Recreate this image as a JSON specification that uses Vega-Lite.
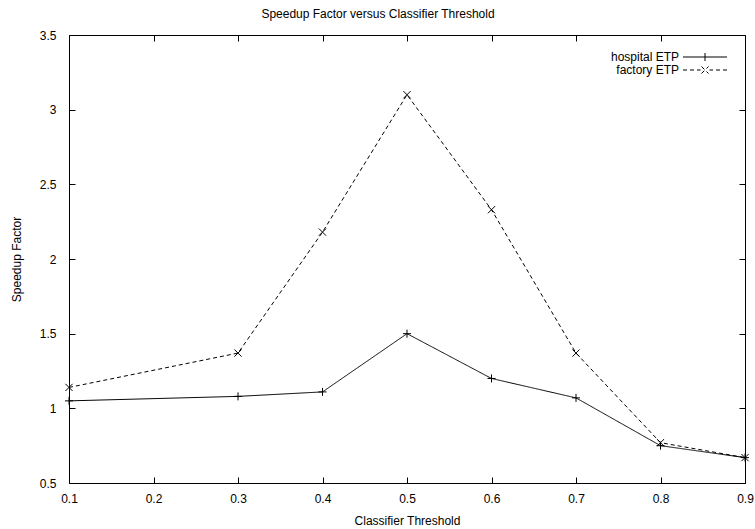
{
  "$schema": "https://vega.github.io/schema/vega-lite/v6.json",
  "width": 676,
  "height": 448,
  "autosize": "none",
  "padding": {"left": 69, "top": 35, "right": 10, "bottom": 46},
  "background": "white",
  "config": {
    "font": "Liberation Sans",
    "view": {"stroke": "black", "strokeWidth": 1},
    "axis": {
      "domain": false,
      "grid": false,
      "ticks": true,
      "tickColor": "black",
      "tickWidth": 1,
      "tickSize": 6,
      "offset": -6,
      "zindex": 1,
      "labelColor": "black",
      "labelFontSize": 12,
      "labelFlush": false,
      "labelOverlap": false,
      "titleFontSize": 12,
      "titleFontWeight": "normal",
      "titleColor": "black"
    }
  },
  "title": {"text": "Speedup Factor versus Classifier Threshold", "fontSize": 12, "fontWeight": "normal", "offset": 8, "dx": -29, "color": "black"},
  "data": {"values": [
    {"threshold": 0.1, "speedup": 1.05, "series": "hospital ETP"},
    {"threshold": 0.3, "speedup": 1.08, "series": "hospital ETP"},
    {"threshold": 0.4, "speedup": 1.11, "series": "hospital ETP"},
    {"threshold": 0.5, "speedup": 1.5, "series": "hospital ETP"},
    {"threshold": 0.6, "speedup": 1.2, "series": "hospital ETP"},
    {"threshold": 0.7, "speedup": 1.07, "series": "hospital ETP"},
    {"threshold": 0.8, "speedup": 0.75, "series": "hospital ETP"},
    {"threshold": 0.9, "speedup": 0.67, "series": "hospital ETP"},
    {"threshold": 0.1, "speedup": 1.14, "series": "factory ETP"},
    {"threshold": 0.3, "speedup": 1.37, "series": "factory ETP"},
    {"threshold": 0.4, "speedup": 2.18, "series": "factory ETP"},
    {"threshold": 0.5, "speedup": 3.1, "series": "factory ETP"},
    {"threshold": 0.6, "speedup": 2.33, "series": "factory ETP"},
    {"threshold": 0.7, "speedup": 1.37, "series": "factory ETP"},
    {"threshold": 0.8, "speedup": 0.77, "series": "factory ETP"},
    {"threshold": 0.9, "speedup": 0.67, "series": "factory ETP"}
  ]},
  "layer": [
    {
      "mark": {"type": "point", "opacity": 0},
      "encoding": {
        "x": {"field": "threshold", "type": "quantitative", "scale": {"domain": [0.1, 0.9], "nice": false, "zero": false},
              "axis": {"orient": "top", "title": null, "labels": false, "ticks": true, "values": [0.1,0.2,0.3,0.4,0.5,0.6,0.7,0.8,0.9]}},
        "y": {"field": "speedup", "type": "quantitative", "scale": {"domain": [0.5, 3.5], "nice": false, "zero": false},
              "axis": {"orient": "right", "title": null, "labels": false, "ticks": true, "values": [0.5,1,1.5,2,2.5,3,3.5]}}
      }
    },
    {
      "mark": {"type": "point", "opacity": 0},
      "encoding": {
        "x": {"field": "threshold", "type": "quantitative",
              "axis": {"orient": "bottom", "title": "Classifier Threshold", "ticks": true, "values": [0.1,0.2,0.3,0.4,0.5,0.6,0.7,0.8,0.9], "format": ".1f", "labelPadding": 10, "titlePadding": 11}},
        "y": {"field": "speedup", "type": "quantitative",
              "axis": {"orient": "left", "title": "Speedup Factor", "ticks": true, "values": [0.5,1,1.5,2,2.5,3,3.5], "format": "~g", "labelPadding": 13, "titlePadding": 16}}
      }
    },
    {
      "mark": {"type": "line", "color": "black", "strokeWidth": 1},
      "encoding": {
        "x": {"field": "threshold", "type": "quantitative", "axis": null},
        "y": {"field": "speedup", "type": "quantitative", "axis": null},
        "strokeDash": {
          "field": "series", "type": "nominal",
          "scale": {"domain": ["hospital ETP", "factory ETP"], "range": [[1, 0], [4, 3]]},
          "legend": {
            "title": null,
            "orient": "top-right",
            "offset": 16,
            "padding": 0,
            "labelFontSize": 12,
            "labelColor": "black",
            "rowPadding": 1,
            "symbolSize": 64,
            "symbolStrokeColor": "black",
            "symbolStrokeWidth": 1,
            "encode": {
              "legend": {"update": {"y": {"value": 9}}},
              "labels": {"update": {"align": {"value": "right"}, "x": {"value": -4}}},
              "symbols": {"update": {
                "shape": {"signal": "datum.value === 'hospital ETP' ? 'M-5.5,0H5.5M0,-1V1' : 'M-5.5,0H-4.5M-3.75,0H-2.75M-2,0H-1.125M-0.875,-0.875L0.875,0.875M-0.875,0.875L0.875,-0.875M1.125,0H2M2.75,0H3.75M4.5,0H5.5'"},
                "strokeDash": {"value": [1, 0]},
                "x": {"value": 22}
              }}
            }
          }
        }
      }
    },
    {
      "transform": [{"filter": "datum.series === 'hospital ETP'"}],
      "mark": {"type": "point", "filled": false, "stroke": "black", "strokeWidth": 1, "size": 64, "opacity": 1, "shape": "M-1,0H1M0,-1V1"},
      "encoding": {
        "x": {"field": "threshold", "type": "quantitative", "axis": null},
        "y": {"field": "speedup", "type": "quantitative", "axis": null}
      }
    },
    {
      "transform": [{"filter": "datum.series === 'factory ETP'"}],
      "mark": {"type": "point", "filled": false, "stroke": "black", "strokeWidth": 1, "size": 64, "opacity": 1, "shape": "M-0.9,-0.9L0.9,0.9M-0.9,0.9L0.9,-0.9"},
      "encoding": {
        "x": {"field": "threshold", "type": "quantitative", "axis": null},
        "y": {"field": "speedup", "type": "quantitative", "axis": null}
      }
    }
  ],
  "resolve": {"axis": {"x": "independent", "y": "independent"}}
}
